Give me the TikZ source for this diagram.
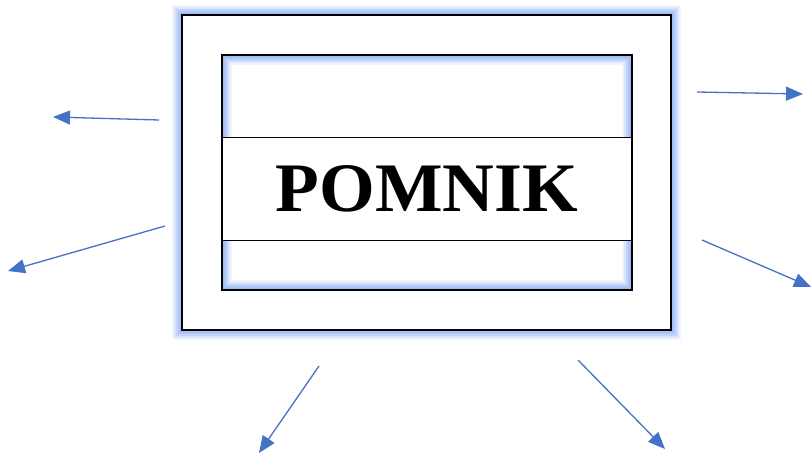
\documentclass[tikz,border=0pt]{standalone}
\usepackage{fontspec}
\setmainfont{Liberation Serif}
\usetikzlibrary{arrows.meta}
\definecolor{arr}{RGB}{68,114,196}
\definecolor{glow}{RGB}{160,188,247}
\tikzset{
  ray/.style={draw=arr,line width=1.3pt,-{Triangle[length=17pt,width=14pt]}},
  frame/.style={draw=black,line width=2.6pt},
}
\begin{document}
\begin{tikzpicture}[x=1pt,y=-1pt]
\useasboundingbox (0,0) rectangle (811,454);
% outer glow
\foreach \w/\o in {20/0.15,16/0.28,12/0.42,8/0.62,4/0.85}{
  \draw[glow,line width=\w pt,opacity=\o] (182,15) rectangle (671,330);
}
\fill[white] (182,15) rectangle (671,330);
% inner glow
\begin{scope}
  \clip (222,55) rectangle (632,290);
  \foreach \w/\o in {20/0.15,16/0.28,12/0.42,8/0.62,4/0.85}{
    \draw[glow,line width=\w pt,opacity=\o] (222,55) rectangle (632,290);
  }
\end{scope}
\fill[white] (222,137) rectangle (632,240);
\draw[black,line width=0.8pt] (222,137) -- (632,137);
\draw[black,line width=0.8pt] (222,240) -- (632,240);
\node[frame,minimum width=489pt,minimum height=315pt,inner sep=0pt] (outer) at (426.5,172.5) {};
\node[draw=black,line width=2pt,minimum width=410pt,minimum height=235pt,inner sep=0pt] (inner) at (427,172.5) {};
\node[inner sep=0pt] (title) at (427,188.5) {\resizebox{302pt}{46pt}{\bfseries POMNIK}};
% arrow endpoints
\coordinate (s1) at (159,120); \coordinate (t1) at (53,117);
\coordinate (s2) at (165,226); \coordinate (t2) at (8,271);
\coordinate (s3) at (319,366); \coordinate (t3) at (259,453);
\coordinate (s4) at (578,360); \coordinate (t4) at (665,449);
\coordinate (s5) at (697,92);  \coordinate (t5) at (803,94);
\coordinate (s6) at (702,240); \coordinate (t6) at (811,287);
\foreach \i in {1,...,6}{ \draw[ray] (s\i) -- (t\i); }
\end{tikzpicture}
\end{document}
